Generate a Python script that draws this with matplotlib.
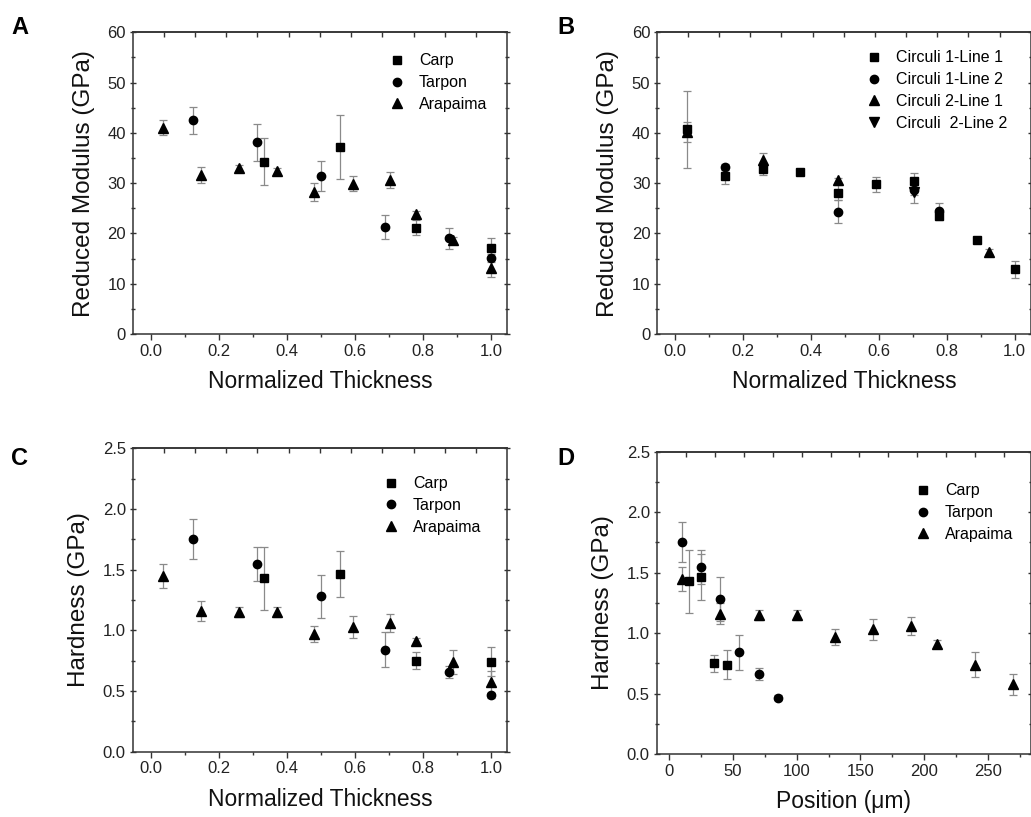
import numpy as np
import matplotlib
matplotlib.use("Agg")
import matplotlib.pyplot as plt
from matplotlib.ticker import MultipleLocator, FixedLocator

plt.rcParams['font.family'] = ['Liberation Sans', 'DejaVu Sans']

# ---------------- data ----------------
# normalized thickness positions (panels A, C)
carp_nt = [0.333, 0.556, 0.778, 1.0]
tarpon_nt = [0.125, 0.3125, 0.5, 0.6875, 0.875, 1.0]
arap_nt = [0.037, 0.148, 0.259, 0.370, 0.481, 0.593, 0.704, 0.778, 0.889, 1.0]

# positions in micrometres (panel D)
carp_pos = [15, 25, 35, 45]
tarpon_pos = [10, 25, 40, 55, 70, 85]
arap_pos = [10, 40, 70, 100, 130, 160, 190, 210, 240, 270]

# reduced modulus (GPa), panel A
carp_E = [34.3, 37.2, 21.1, 17.2]
carp_E_err = [4.7, 6.3, 1.5, 1.9]
tarpon_E = [42.5, 38.1, 31.5, 21.2, 19.0, 15.2]
tarpon_E_err = [2.7, 3.6, 3.0, 2.4, 2.0, 0.8]
arap_E = [41.0, 31.7, 33.0, 32.4, 28.3, 29.9, 30.6, 23.9, 18.7, 13.1]
arap_E_err = [1.5, 1.6, 0.6, 0.6, 1.8, 1.5, 1.6, 0.6, 0.6, 1.7]

# hardness (GPa), panels C, D
carp_H = [1.43, 1.465, 0.75, 0.74]
carp_H_err = [0.26, 0.19, 0.07, 0.12]
tarpon_H = [1.75, 1.55, 1.28, 0.84, 0.66, 0.465]
tarpon_H_err = [0.165, 0.14, 0.18, 0.145, 0.05, 0.02]
arap_H = [1.45, 1.16, 1.15, 1.15, 0.97, 1.03, 1.06, 0.91, 0.74, 0.575]
arap_H_err = [0.10, 0.085, 0.04, 0.04, 0.065, 0.09, 0.075, 0.03, 0.10, 0.09]

# panel B: circuli lines
c1l1_x = [0.034, 0.147, 0.259, 0.367, 0.480, 0.591, 0.703, 0.777, 0.888, 1.0]
c1l1_E = [40.7, 31.5, 32.8, 32.3, 28.1, 29.8, 30.5, 23.5, 18.7, 12.9]
c1l1_err = [7.7, 1.7, 1.2, 0.5, 1.5, 1.5, 1.6, 0.8, 0.6, 1.7]
c1l2_x = [0.147, 0.480, 0.703, 0.777]
c1l2_E = [33.2, 24.3, 28.6, 24.5]
c1l2_err = [0.6, 2.3, 1.0, 1.5]
c2l1_x = [0.034, 0.259, 0.480, 0.926]
c2l1_E = [40.2, 34.7, 30.6, 16.4]
c2l1_err = [2.0, 1.2, 0.5, 0.5]
c2l2_x = [0.703]
c2l2_E = [28.3]
c2l2_err = [2.3]

species = ['Carp', 'Tarpon', 'Arapaima']
circuli = ['Circuli 1-Line 1', 'Circuli 1-Line 2', 'Circuli 2-Line 1', 'Circuli  2-Line 2']

# ---------------- style ----------------
W, H = 1031, 817
fig = plt.figure(figsize=(W / 100, H / 100), dpi=100)

def ax_px(l, t, r, b):
    return fig.add_axes([l / W, 1 - b / H, (r - l) / W, (b - t) / H])

MS = {'s': 5.4, 'o': 6.0, '^': 7.2, 'v': 7.2}
ECOL = '#8a8a8a'

def series(ax, x, y, e, m, label):
    ax.errorbar(x, y, yerr=e, fmt='none', ecolor=ECOL, elinewidth=0.9,
                capsize=3.0, capthick=0.9, zorder=2)
    ax.plot(x, y, linestyle='none', marker=m, ms=MS[m], color='black',
            label=label, zorder=3)

def style(ax, xlim, ylim, xmaj, xmin, ymaj, ymin, top_ticks, xlabel, ylabel):
    ax.set_xlim(*xlim)
    ax.set_ylim(*ylim)
    ax.xaxis.set_major_locator(MultipleLocator(xmaj))
    ax.xaxis.set_minor_locator(MultipleLocator(xmin))
    ax.yaxis.set_major_locator(MultipleLocator(ymaj))
    ax.yaxis.set_minor_locator(MultipleLocator(ymin))
    for s in ax.spines.values():
        s.set_linewidth(1.1)
        s.set_color('#333333')
    ax.tick_params(which='major', direction='out', length=4, width=1.0,
                   color='#333333', labelsize=12, labelcolor='#222222', pad=3)
    ax.tick_params(which='minor', direction='out', length=2.5, width=1.0,
                   color='#333333')
    ax.tick_params(which='both', right=True, top=False)
    ax.tick_params(axis='y', which='both', direction='inout')
    sec = ax.secondary_xaxis('top')
    sec.xaxis.set_major_locator(FixedLocator(top_ticks))
    sec.tick_params(direction='in', length=3.5, width=1.0, color='#333333',
                    labeltop=False)
    sec.spines['top'].set_linewidth(1.1)
    sec.spines['top'].set_color('#333333')
    ax.set_xlabel(xlabel, fontsize=16.5, color='#111111', labelpad=8)
    ax.set_ylabel(ylabel, fontsize=17.5, color='#111111', labelpad=9)

def legend(ax, x, y):
    ax.legend(loc='upper left', bbox_to_anchor=(x, y), frameon=False,
              fontsize=11.5, handlelength=1.0, handletextpad=0.9,
              labelspacing=0.42, borderpad=0, borderaxespad=0, numpoints=1)

top_nt = np.arange(0.038, 1.0, 0.0918)
top_pos = np.arange(13.0, 282.0, 22.7)

# ---- A ----
axA = ax_px(132.7, 32.3, 507.5, 334)
series(axA, carp_nt, carp_E, carp_E_err, 's', species[0])
series(axA, tarpon_nt, tarpon_E, tarpon_E_err, 'o', species[1])
series(axA, arap_nt, arap_E, arap_E_err, '^', species[2])
style(axA, (-0.053, 1.048), (0, 60), 0.2, 0.1, 10, 5, top_nt,
      'Normalized Thickness', 'Reduced Modulus (GPa)')
legend(axA, 0.683, 0.93)

# ---- B ----
axB = ax_px(657.3, 32.3, 1030.5, 334)
series(axB, c1l1_x, c1l1_E, c1l1_err, 's', circuli[0])
series(axB, c1l2_x, c1l2_E, c1l2_err, 'o', circuli[1])
series(axB, c2l1_x, c2l1_E, c2l1_err, '^', circuli[2])
series(axB, c2l2_x, c2l2_E, c2l2_err, 'v', circuli[3])
style(axB, (-0.052, 1.047), (0, 60), 0.2, 0.1, 10, 5, top_nt,
      'Normalized Thickness', 'Reduced Modulus (GPa)')
legend(axB, 0.558, 0.94)

# ---- C ----
axC = ax_px(132.7, 448.3, 507.5, 751.7)
series(axC, carp_nt, carp_H, carp_H_err, 's', species[0])
series(axC, tarpon_nt, tarpon_H, tarpon_H_err, 'o', species[1])
series(axC, arap_nt, arap_H, arap_H_err, '^', species[2])
style(axC, (-0.053, 1.048), (0, 2.5), 0.2, 0.1, 0.5, 0.25, top_nt,
      'Normalized Thickness', 'Hardness (GPa)')
legend(axC, 0.667, 0.908)

# ---- D ----
axD = ax_px(656.7, 451.7, 1030.5, 754)
series(axD, carp_pos, carp_H, carp_H_err, 's', species[0])
series(axD, tarpon_pos, tarpon_H, tarpon_H_err, 'o', species[1])
series(axD, arap_pos, arap_H, arap_H_err, '^', species[2])
style(axD, (-10, 283.5), (0, 2.5), 50, 25, 0.5, 0.25, top_pos,
      'Position (\u03bcm)', 'Hardness (GPa)')
legend(axD, 0.69, 0.895)

for lab, x, y in [('A', 11, 16), ('B', 557, 16), ('C', 11, 447), ('D', 557, 447)]:
    fig.text(x / W, 1 - y / H, lab, fontsize=17, fontweight='bold',
             va='top', ha='left')

fig.savefig('out.png', dpi=100)
